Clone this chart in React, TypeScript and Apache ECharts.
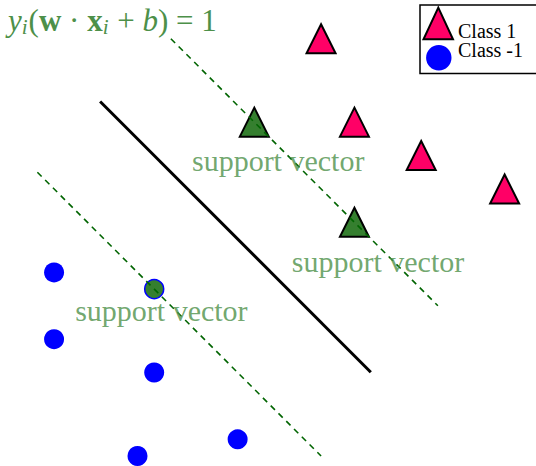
import React, { useEffect, useRef } from 'react';
import * as echarts from 'echarts';

// ---- data (data units) ----
const class1Points = [[9, 13.5], [10, 11], [12, 10], [14.5, 9]];
const classNegPoints = [[1, 6.5], [1, 4.5], [4, 3.5], [6.5, 1.5], [3.5, 1]];
const supportVectorsPos = [[7, 11], [10, 8]];
const supportVectorsNeg = [[4, 6]];
const hyperplane = [[2.38, 11.62], [10.49, 3.51]];
const marginPos = [[4.5, 13.5], [12.5, 5.5]];
const marginNeg = [[0.5, 9.5], [9, 1]];
const annotationPoints = [[5.13, 9.84], [8.12, 6.84], [1.63, 5.35]];
const annotationText = 'support vector';
const legendNames = ['Class 1', 'Class -1'];
const xRange = [-0.62, 15.44];
const yRange = [0.7, 14.66];

const SERIF = 'Liberation Serif';
const TEXT_GREEN = '#4d9049';
const PINK = '#ff0066';
const BLUE = '#0000ff';
const SV_GREEN = '#357f2f';
const DASH_GREEN = '#006400';

const triIcon = 'path://M0,0M31,48M16.3,0.7L31,32.3L1.5,32.3Z';
const circleIcon = 'path://M0,0M31,48M4.1,32.3a12.7,12.7 0 1,0 25.4,0a12.7,12.7 0 1,0 -25.4,0Z';

export default function App() {
  const ref = useRef<HTMLDivElement>(null);
  useEffect(() => {
    if (!ref.current) return;
    const chart = echarts.init(ref.current, undefined, { renderer: 'svg' });
    const rich = {
      it: { fontFamily: SERIF, fontStyle: 'italic', fontWeight: 'normal', fontSize: 31, color: TEXT_GREEN },
      sub: { fontFamily: SERIF, fontStyle: 'italic', fontWeight: 'normal', fontSize: 21, color: TEXT_GREEN, padding: [13, 1, 0, 0] },
      bf: { fontFamily: SERIF, fontWeight: 'bold', fontSize: 31, color: TEXT_GREEN },
      n: { fontFamily: SERIF, fontWeight: 'normal', fontSize: 31, color: TEXT_GREEN },
    };
    chart.setOption({
      animation: false,
      title: {
        text: '{it|y}{sub|i}{n|(}{bf|w}{n| · }{bf|x}{sub|i}{n| + }{it|b}{n|) = 1}',
        left: 8,
        top: 3,
        padding: 0,
        textStyle: { rich, fontFamily: SERIF, fontWeight: 'normal', fontSize: 31, color: TEXT_GREEN },
      },
      legend: {
        left: 420,
        top: 5,
        orient: 'vertical',
        itemWidth: 31,
        itemHeight: 48,
        itemGap: -30.5,
        padding: [1, 40, 0, 1],
        borderColor: '#000',
        borderWidth: 1.5,
        borderRadius: 0,
        selectedMode: false,
        textStyle: { fontFamily: SERIF, fontSize: 20, color: '#000' },
        data: [
          { name: legendNames[0], icon: triIcon, itemStyle: { color: PINK, borderColor: '#000', borderWidth: 2 } },
          { name: legendNames[1], icon: circleIcon, itemStyle: { color: BLUE, borderWidth: 0 } },
        ],
      },
      grid: { left: 0, right: 0, top: 0, bottom: 0, containLabel: false },
      xAxis: { type: 'value', min: xRange[0], max: xRange[1], show: false },
      yAxis: { type: 'value', min: yRange[0], max: yRange[1], show: false },
      series: [
        {
          name: legendNames[0],
          type: 'scatter',
          symbol: 'triangle',
          symbolSize: 29,
          itemStyle: { color: PINK, borderColor: '#000', borderWidth: 2, opacity: 1 },
          data: class1Points,
          z: 2,
        },
        {
          name: legendNames[1],
          type: 'scatter',
          symbol: 'circle',
          symbolSize: 20,
          itemStyle: { color: BLUE, opacity: 1 },
          data: classNegPoints,
          z: 2,
        },
        {
          name: 'SV Class 1',
          type: 'scatter',
          symbol: 'triangle',
          symbolSize: 29,
          itemStyle: { color: SV_GREEN, borderColor: '#000', borderWidth: 2, opacity: 1 },
          data: supportVectorsPos,
          z: 3,
        },
        {
          name: 'SV Class -1',
          type: 'scatter',
          symbol: 'circle',
          symbolSize: 19,
          itemStyle: { color: SV_GREEN, borderColor: BLUE, borderWidth: 1.5, opacity: 1 },
          data: supportVectorsNeg,
          z: 3,
        },
        {
          name: 'hyperplane',
          type: 'line',
          symbol: 'none',
          lineStyle: { color: '#000', width: 3 },
          data: hyperplane,
          z: 4,
        },
        {
          name: 'margin +',
          type: 'line',
          symbol: 'none',
          lineStyle: { color: DASH_GREEN, width: 1.6, type: [6, 5] },
          data: marginPos,
          z: 4,
        },
        {
          name: 'margin -',
          type: 'line',
          symbol: 'none',
          lineStyle: { color: DASH_GREEN, width: 1.6, type: [6, 5] },
          data: marginNeg,
          z: 4,
        },
        {
          name: 'annotations',
          type: 'scatter',
          symbolSize: 0.1,
          itemStyle: { color: 'rgba(0,0,0,0)' },
          label: {
            show: true,
            position: 'right',
            distance: 0,
            formatter: () => annotationText,
            fontFamily: SERIF,
            fontSize: 30,
            color: TEXT_GREEN,
          },
          data: annotationPoints,
          z: 5,
        },
      ],
    });
    return () => chart.dispose();
  }, []);
  return (
    <div
      ref={ref}
      style={{ position: 'fixed', left: 0, top: 0, width: 536, height: 466, background: '#fff' }}
    />
  );
}
